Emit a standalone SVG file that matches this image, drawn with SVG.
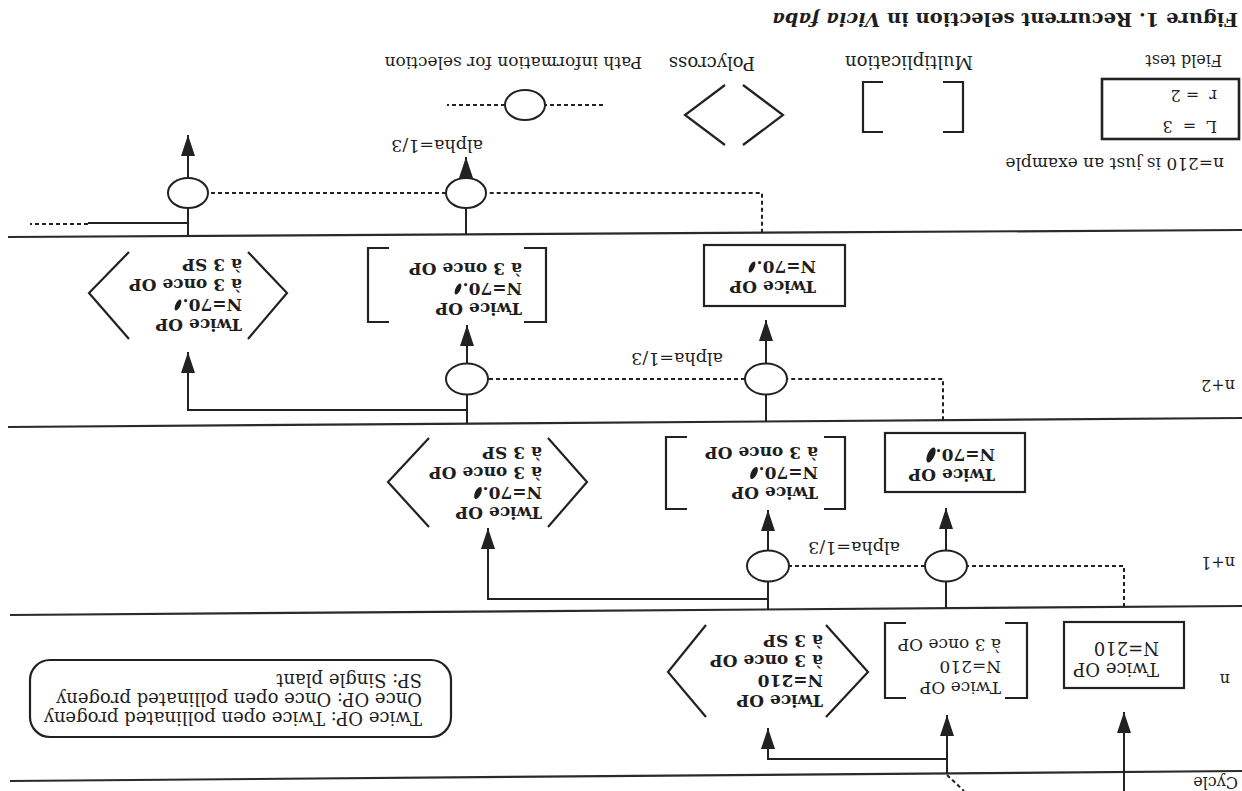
<svg xmlns="http://www.w3.org/2000/svg" width="1242" height="791" viewBox="0 0 1242 791">
<style>
.sep{stroke:#2a2a2a;stroke-width:2.2;fill:none}
.ln{stroke:#222;stroke-width:2;fill:none}
.dash{stroke:#222;stroke-width:2;fill:none;stroke-dasharray:4 3}
.shape{stroke:#222;stroke-width:2.2;fill:none}
.circ{stroke:#222;stroke-width:2;fill:#fff}
.t{font-family:"DejaVu Serif","Liberation Serif",serif;fill:#1e1e1e}
.r17{font-size:17px}
.r18{font-size:18px}
.b17{font-size:17px;font-weight:bold}
.s16{font-size:16px}
.s17{font-size:17px}
.s18{font-size:18px}
.blot{fill:#1e1e1e}
</style>
<defs>
<marker id="ah" markerUnits="userSpaceOnUse" markerWidth="22" markerHeight="14" viewBox="0 0 22 14" refX="21" refY="7" orient="auto">
<path d="M0,0 L21,7 L0,14 z" fill="#222"/>
</marker>
</defs>
<rect width="1242" height="791" fill="#fff"/>
<g transform="rotate(180 621 395.5)">
  <g id="separators">
    <path class="sep" d="M0,20 L1232,10"/>
    <path class="sep" d="M0,185 L1232,176"/>
    <path class="sep" d="M0,373 L1234,364"/>
    <path class="sep" d="M0,561 L1234,554"/>
  </g>
  <g id="labels" class="t">
    <text x="4" y="14" class="s16">Cycle</text>
    <text x="12" y="117" class="s16">n</text>
    <text x="7" y="234" class="s16">n+1</text>
    <text x="7" y="411" class="s16">n+2</text>
    <text x="4" y="778" font-size="19" font-weight="bold" textLength="466" lengthAdjust="spacingAndGlyphs">Figure 1. Recurrent selection in <tspan font-style="italic">Vicia faba</tspan></text>
    <text x="18" y="633" class="s17">n=210 is just an example</text>
    <text x="342" y="249" font-size="17.5">alpha=1/3</text>
    <text x="519" y="438" font-size="17.5">alpha=1/3</text>
    <text x="759" y="651" font-size="17.5">alpha=1/3</text>
  </g>
  <g id="connectors">
    <path class="ln" d="M118,0 L118,79" marker-end="url(#ah)"/>
    <path class="ln" d="M295,17.6 L295,76" marker-end="url(#ah)"/>
    <path class="ln" d="M295,32 L474,32 L474,63" marker-end="url(#ah)"/>
    <path class="dash" d="M295,16 L278,0"/>
    <path class="dash" d="M118,184 L118,225 L275,225"/>
    <path class="ln" d="M296,183 L296,283" marker-end="url(#ah)"/>
    <path class="dash" d="M317,225 L453,225"/>
    <path class="ln" d="M474,181.5 L474,281" marker-end="url(#ah)"/>
    <path class="ln" d="M474,192 L754,192 L754,263" marker-end="url(#ah)"/>
    <path class="dash" d="M299,370.8 L299,412 L455,412"/>
    <path class="ln" d="M476,369.5 L476,471" marker-end="url(#ah)"/>
    <path class="dash" d="M497,412 L754,412"/>
    <path class="ln" d="M775,367.3 L775,466" marker-end="url(#ah)"/>
    <path class="ln" d="M775,381 L1054,381 L1054,439" marker-end="url(#ah)"/>
    <path class="dash" d="M480,558.3 L480,598 L756,598"/>
    <path class="ln" d="M776,556.6 L776,634" marker-end="url(#ah)"/>
    <path class="dash" d="M796,598 L1034,598"/>
    <path class="ln" d="M1054,555 L1054,656" marker-end="url(#ah)"/>
    <path class="ln" d="M1054,568 L1154,568"/>
    <path class="dash" d="M1154,567 L1212,567"/>
  </g>
  <g id="sel-n1-a"><ellipse class="circ" cx="296" cy="225" rx="21" ry="15.5"/></g>
  <g id="sel-n1-b"><ellipse class="circ" cx="474" cy="225" rx="21" ry="15.5"/></g>
  <g id="sel-n2-a"><ellipse class="circ" cx="476" cy="412" rx="21" ry="15.5"/></g>
  <g id="sel-n2-b"><ellipse class="circ" cx="775" cy="412" rx="21" ry="15.5"/></g>
  <g id="sel-n3-a"><ellipse class="circ" cx="776" cy="598" rx="20" ry="15"/></g>
  <g id="sel-n3-b"><ellipse class="circ" cx="1054" cy="598" rx="20" ry="15"/></g>

  <g id="n-field">
    <rect class="shape" x="58" y="103" width="120" height="66"/>
    <text class="t r18" x="83" y="128">Twice OP</text>
    <text class="t r18" x="83" y="149">N=210</text>
  </g>
  <g id="n-mult">
    <path class="shape" d="M237,93 L215,93 L215,168 L237,168"/>
    <path class="shape" d="M336,93 L357,93 L357,168 L336,168"/>
    <text class="t r17" x="241" y="109">Twice OP</text>
    <text class="t r17" x="241" y="130">N=210</text>
    <text class="t r17" x="241" y="152">à 3 once OP</text>
  </g>
  <g id="n-poly">
    <path class="shape" d="M416,74 L374,119 L416,166"/>
    <path class="shape" d="M536,74 L574,119 L536,166"/>
    <text class="t b17" x="419" y="96">Twice OP</text>
    <text class="t b17" x="419" y="116">N=210</text>
    <text class="t b17" x="419" y="136">à 3 once OP</text>
    <text class="t b17" x="419" y="156">à 3 SP</text>
  </g>
  <g id="abbrev-legend">
    <rect class="shape" x="791" y="54" width="421" height="77" rx="20"/>
    <text class="t r18" x="820" y="79.5">Twice OP: Twice open pollinated progeny</text>
    <text class="t r18" x="820" y="98.5">Once OP: Once open pollinated progeny</text>
    <text class="t r18" x="820" y="117.5">SP: Single plant</text>
  </g>

  <g id="n1-field">
    <rect class="shape" x="217" y="299" width="140" height="59"/>
    <text class="t b17" x="247" y="322">Twice OP</text>
    <text class="t b17" x="247" y="342">N=70.</text>
    <ellipse class="blot" cx="311" cy="336" rx="3.5" ry="8" transform="rotate(25 311 336)"/>
  </g>
  <g id="n1-mult">
    <path class="shape" d="M418,282 L397,282 L397,354 L418,354"/>
    <path class="shape" d="M555,282 L576,282 L576,354 L555,354"/>
    <text class="t b17" x="424" y="304">Twice OP</text>
    <text class="t b17" x="424" y="324">N=70.</text>
    <ellipse class="blot" cx="488" cy="318" rx="3" ry="6.5" transform="rotate(25 488 318)"/>
    <text class="t b17" x="424" y="344">à 3 once OP</text>
  </g>
  <g id="n1-poly">
    <path class="shape" d="M694,264 L655,309 L694,353"/>
    <path class="shape" d="M813,264 L854,309 L813,353"/>
    <text class="t b17" x="700" y="284">Twice OP</text>
    <text class="t b17" x="700" y="304">N=70.</text>
    <ellipse class="blot" cx="764" cy="298" rx="3" ry="6.5" transform="rotate(25 764 298)"/>
    <text class="t b17" x="700" y="324">à 3 once OP</text>
    <text class="t b17" x="700" y="344">à 3 SP</text>
  </g>

  <g id="n2-field">
    <rect class="shape" x="397" y="485" width="141" height="61"/>
    <text class="t b17" x="426" y="510">Twice OP</text>
    <text class="t b17" x="426" y="530">N=70.</text>
    <ellipse class="blot" cx="490" cy="524" rx="2.5" ry="6" transform="rotate(25 490 524)"/>
  </g>
  <g id="n2-mult">
    <path class="shape" d="M718,469 L696,469 L696,543 L718,543"/>
    <path class="shape" d="M853,469 L874,469 L874,543 L853,543"/>
    <text class="t b17" x="720" y="488">Twice OP</text>
    <text class="t b17" x="720" y="508">N=70.</text>
    <ellipse class="blot" cx="784" cy="502" rx="2.5" ry="6" transform="rotate(25 784 502)"/>
    <text class="t b17" x="720" y="528">à 3 once OP</text>
  </g>
  <g id="n2-poly">
    <path class="shape" d="M994,452 L955,498 L994,539"/>
    <path class="shape" d="M1113,452 L1153,498 L1113,539"/>
    <text class="t b17" x="1000" y="472">Twice OP</text>
    <text class="t b17" x="1000" y="492">N=70.</text>
    <ellipse class="blot" cx="1064" cy="486" rx="2.5" ry="6" transform="rotate(25 1064 486)"/>
    <text class="t b17" x="1000" y="512">à 3 once OP</text>
    <text class="t b17" x="1000" y="532">à 3 SP</text>
  </g>

  <g id="legend-field">
    <text class="t s16" x="20" y="736">Field test</text>
    <rect x="3" y="652" width="137" height="60" fill="none" stroke="#222" stroke-width="2.6"/>
    <text class="t s16" x="25" y="670" xml:space="preserve">L  =  3</text>
    <text class="t s16" x="25" y="701" xml:space="preserve">r  = 2</text>
  </g>
  <g id="legend-mult">
    <text class="t s18" x="269" y="735">Multiplication</text>
    <path class="shape" d="M299,659 L279,659 L279,709 L299,709"/>
    <path class="shape" d="M359,659 L379,659 L379,709 L359,709"/>
  </g>
  <g id="legend-poly">
    <text class="t s18" x="487" y="734">Polycross</text>
    <path class="shape" d="M499,646 L459,676 L499,706"/>
    <path class="shape" d="M517,646 L557,676 L517,706"/>
  </g>
  <g id="legend-path">
    <text class="t s17" x="600" y="734">Path information for selection</text>
    <path class="dash" d="M639,686 L697,686"/>
    <path class="dash" d="M737,686 L795,686"/>
    <ellipse class="circ" cx="717" cy="686" rx="20" ry="15"/>
  </g>
</g>
</svg>
